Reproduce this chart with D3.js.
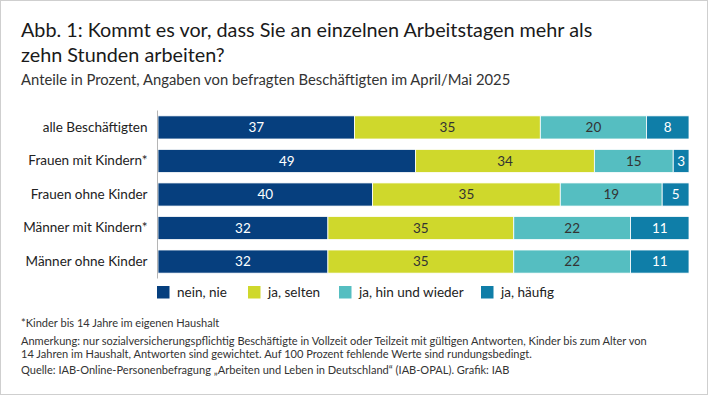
<!DOCTYPE html>
<html lang="de">
<head>
<meta charset="utf-8">
<script src="https://cdn.jsdelivr.net/npm/d3@7"></script>
<style>
  html, body { margin: 0; padding: 0; background: #fff; }
  svg { display: block; font-family: Lato, "Open Sans", sans-serif; }
</style>
</head>
<body>
<div id="chart"></div>
<script>
const groups = ['alle Beschäftigten', 'Frauen mit Kindern*', 'Frauen ohne Kinder', 'Männer mit Kindern*', 'Männer ohne Kinder'];
const answers = ['nein, nie', 'ja, selten', 'ja, hin und wieder', 'ja, häufig'];
const neinNie = [37, 49, 40, 32, 32];
const jaSelten = [35, 34, 35, 35, 35];
const jaHinUndWieder = [20, 15, 19, 22, 22];
const jaHaeufig = [8, 3, 5, 11, 11];
const colors = ['#063f7e', '#cfd82c', '#55bec1', '#0f7ea8'];
const labelColors = ['#fff', '#333', '#333', '#fff'];

const W = 710, H = 397;
const margin = { left: 158, right: 21, top: 110.5, bottom: 118.5 };

// rows built from the small arrays; rounded values do not always add up to 100,
// so the stack is expanded to full width (like the original)
const rows = groups.map((g, i) => ({
  group: g,
  [answers[0]]: neinNie[i],
  [answers[1]]: jaSelten[i],
  [answers[2]]: jaHinUndWieder[i],
  [answers[3]]: jaHaeufig[i]
}));

const series = d3.stack()
  .keys(answers)
  .offset(d3.stackOffsetExpand)(rows);

const svg = d3.select('#chart').append('svg')
  .attr('width', W)
  .attr('height', H);

// frame
svg.append('rect')
  .attr('x', 0.5).attr('y', 0.5)
  .attr('width', 707).attr('height', 394)
  .attr('fill', '#fff')
  .attr('stroke', '#cfcfcf');

// titles
const title = svg.append('text')
  .attr('x', 21)
  .attr('fill', '#1a1a1a')
  .style('font-size', '19.8px');
title.append('tspan').attr('x', 21).attr('y', 37)
  .text('Abb. 1: Kommt es vor, dass Sie an einzelnen Arbeitstagen mehr als');
title.append('tspan').attr('x', 21).attr('y', 62)
  .text('zehn Stunden arbeiten?');

svg.append('text')
  .attr('x', 21).attr('y', 84.5)
  .attr('fill', '#333')
  .style('font-size', '14.8px')
  .text('Anteile in Prozent, Angaben von befragten Beschäftigten im April/Mai 2025');

const x = d3.scaleLinear()
  .domain([0, 1])
  .range([margin.left, W - margin.right]);

const y = d3.scaleBand()
  .domain(groups)
  .range([margin.top, H - margin.bottom])
  .paddingInner(0.31)
  .paddingOuter(0.16);

// bars
const layer = svg.append('g')
  .selectAll('g')
  .data(series)
  .join('g')
  .attr('fill', (d, i) => colors[i]);

layer.selectAll('rect')
  .data(d => d)
  .join('rect')
  .attr('x', d => x(d[0]))
  .attr('y', d => y(d.data.group))
  .attr('width', d => x(d[1]) - x(d[0]))
  .attr('height', y.bandwidth())
  .attr('stroke', '#fff')
  .attr('stroke-width', 0.8);

// values in segments
series.forEach((s, si) => {
  svg.append('g')
    .selectAll('text')
    .data(s)
    .join('text')
    .attr('x', d => (x(d[0]) + x(d[1])) / 2)
    .attr('y', d => y(d.data.group) + y.bandwidth() / 2)
    .attr('dy', '0.36em')
    .attr('text-anchor', 'middle')
    .attr('fill', labelColors[si])
    .style('font-size', '13.5px')
    .text(d => d.data[s.key]);
});

// y axis (labels only + line)
const yAxis = svg.append('g')
  .attr('transform', `translate(${margin.left - 0.5},0)`)
  .call(d3.axisLeft(y).tickSize(0).tickPadding(10));
yAxis.select('.domain').attr('stroke', '#b5b5b5').attr('d', `M0,${margin.top}V${H - margin.bottom}`);
yAxis.selectAll('text')
  .attr('fill', '#222')
  .style('font-family', 'Lato, "Open Sans", sans-serif')
  .style('font-size', '13.5px');

// legend
const legendX = [157, 248, 339, 481];
const legend = svg.append('g')
  .selectAll('g')
  .data(answers)
  .join('g')
  .attr('transform', (d, i) => `translate(${legendX[i]},286)`);
legend.append('rect')
  .attr('width', 12.5).attr('height', 12.5)
  .attr('fill', (d, i) => colors[i]);
legend.append('text')
  .attr('x', 20).attr('y', 6.5)
  .attr('dy', '0.36em')
  .attr('fill', '#222')
  .style('font-size', '13.5px')
  .text(d => d);

// footnotes
const notes = [
  { y: 327, t: '*Kinder bis 14 Jahre im eigenen Haushalt' },
  { y: 344.5, t: 'Anmerkung: nur sozialversicherungspflichtig Beschäftigte in Vollzeit oder Teilzeit mit gültigen Antworten, Kinder bis zum Alter von' },
  { y: 357.5, t: '14 Jahren im Haushalt, Antworten sind gewichtet. Auf 100 Prozent fehlende Werte sind rundungsbedingt.' },
  { y: 374, t: 'Quelle: IAB-Online-Personenbefragung „Arbeiten und Leben in Deutschland“ (IAB-OPAL). Grafik: IAB' }
];
svg.append('g')
  .selectAll('text')
  .data(notes)
  .join('text')
  .attr('x', 21)
  .attr('y', d => d.y)
  .attr('fill', '#333')
  .style('font-size', '11.05px')
  .text(d => d.t);
</script>
</body>
</html>
